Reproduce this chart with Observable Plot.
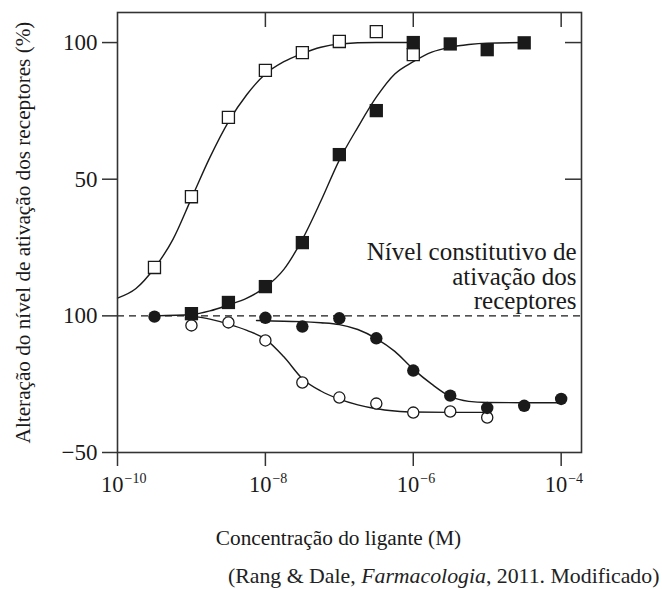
<!DOCTYPE html>
<html><head><meta charset="utf-8">
<script src="https://cdn.jsdelivr.net/npm/d3@7"></script>
<script src="https://cdn.jsdelivr.net/npm/@observablehq/plot@0.6"></script>
<style>
body{margin:0;background:#fff;}
#chart svg{display:block;}
#caption{font-family:"Liberation Serif",serif;font-size:21.8px;line-height:24px;padding-left:228px;color:#222;white-space:nowrap;}
</style></head><body>
<div id="chart"></div>
<div id="caption">(Rang &amp; Dale, <i>Farmacologia</i>, 2011. Modificado)</div>
<script>
// ---- data (x given as log10 of ligand concentration, M) ----
const openSquareLogX = [-9.5, -9, -8.5, -8, -7.5, -7, -6.5, -6];
const openSquareY    = [17.7, 43.6, 72.6, 89.8, 96.3, 100.4, 104, 95.6];
const filledSquareLogX = [-9, -8.5, -8, -7.5, -7, -6.5, -6, -5.5, -5, -4.5];
const filledSquareY    = [0.8, 4.9, 10.7, 26.8, 59, 75.1, 100, 99.5, 97.4, 99.9];
const filledCircleLogX = [-9.5, -8, -7.5, -7, -6.5, -6, -5.5, -5, -4.5, -4];
const filledCircleY    = [-0.3, -0.7, -3.9, -0.9, -8.2, -20, -29.2, -33.7, -32.9, -30.4];
const openCircleLogX = [-9, -8.5, -8, -7.5, -7, -6.5, -6, -5.5, -5];
const openCircleY    = [-3.5, -2.4, -9, -24.4, -29.9, -32.1, -35.4, -35, -37.2];

// fitted curves
const fitOpenSquareLogX = [-10, -9.75, -9.5, -9.25, -9, -8.75, -8.5, -8.25, -8, -7.75, -7.5, -7.25, -7, -6.5, -6];
const fitOpenSquareY    = [6.5, 10, 17.5, 28, 43, 58, 71, 81, 88.5, 93, 96, 98.3, 99.5, 100, 100];
const fitFilledSquareLogX = [-9.5, -9, -8.75, -8.5, -8.25, -8, -7.75, -7.5, -7.25, -7, -6.75, -6.5, -6.25, -6, -5.75, -5.5, -5.25, -5, -4.5];
const fitFilledSquareY    = [0, 0.5, 1.8, 4, 6.5, 10.5, 17, 28, 42, 57, 69, 80, 88.5, 93, 96.5, 98.3, 99.3, 99.8, 100];
const fitOpenCircleLogX = [-9, -8.75, -8.5, -8.25, -8, -7.75, -7.5, -7.25, -7, -6.75, -6.5, -6.25, -6, -5.5, -5];
const fitOpenCircleY    = [0, -1.2, -3, -5.3, -8.5, -15, -23, -27.5, -30.5, -32.6, -34, -34.8, -35.2, -35.3, -35.3];
const fitFilledCircleLogX = [-8.12, -8, -7.75, -7.5, -7.25, -7, -6.75, -6.5, -6.25, -6, -5.75, -5.5, -5.25, -5, -4.5, -4];
const fitFilledCircleY    = [-1.7, -1.8, -2, -2.1, -2.5, -3.2, -5, -8.3, -13, -19.5, -25, -29.5, -31.3, -31.7, -31.8, -31.8];

const constitutiveLevel = 0;
const xTicks = [1e-10, 1e-8, 1e-6, 1e-4];
const topTicks = [1e-8, 1e-6, 1e-4];
const yTicks = [-50, 0, 50, 100];
const rightTicks = [50, 100];
const yTickLabels = {"-50": "\u221250", "0": "100", "50": "50", "100": "100"};

const yTitle = "Alteração do nível de ativação dos receptores (%)";
const xTitle = "Concentração do ligante (M)";
const note = "Nível constitutivo de\nativação dos\nreceptores";

const pts = (lx, ys) => lx.map((v, i) => ({x: 10 ** v, y: ys[i]}));
const FF = "Liberation Serif";
const INK = "#1a1a1a";

const W = 662, H = 564;
const chart = Plot.plot({
  width: W, height: H,
  marginLeft: 117, marginRight: 81, marginTop: 12, marginBottom: H - 452,
  style: {fontFamily: FF, fontSize: "21px", color: INK, background: "white", overflow: "visible"},
  x: {type: "log", domain: [1e-10, 10 ** -3.725]},
  y: {domain: [-50, 111]},
  marks: [
    Plot.ruleY([constitutiveLevel], {stroke: INK, strokeWidth: 1.4, strokeDasharray: "7,5"}),
    Plot.line(pts(fitOpenSquareLogX, fitOpenSquareY), {x: "x", y: "y", curve: "monotone-x", stroke: INK, strokeWidth: 1.4}),
    Plot.line(pts(fitFilledSquareLogX, fitFilledSquareY), {x: "x", y: "y", curve: "monotone-x", stroke: INK, strokeWidth: 1.4}),
    Plot.line(pts(fitOpenCircleLogX, fitOpenCircleY), {x: "x", y: "y", curve: "monotone-x", stroke: INK, strokeWidth: 1.4}),
    Plot.line(pts(fitFilledCircleLogX, fitFilledCircleY), {x: "x", y: "y", curve: "monotone-x", stroke: INK, strokeWidth: 1.4}),
    Plot.dot(pts(openCircleLogX, openCircleY), {x: "x", y: "y", r: 5.6, fill: "white", stroke: INK, strokeWidth: 1.3}),
    Plot.dot(pts(filledCircleLogX, filledCircleY), {x: "x", y: "y", r: 6.2, fill: INK}),
    Plot.dot(pts(openSquareLogX, openSquareY), {x: "x", y: "y", symbol: "square", r: 6.8, fill: "white", stroke: INK, strokeWidth: 1.3}),
    Plot.dot(pts(filledSquareLogX, filledSquareY), {x: "x", y: "y", symbol: "square", r: 7.5, fill: INK}),
    Plot.frame({stroke: "#333", strokeWidth: 1.6}),
    Plot.ruleX(topTicks, {insetBottom: 425, stroke: "#333", strokeWidth: 1.5}),
    Plot.ruleY(rightTicks, {insetLeft: 448, stroke: "#333", strokeWidth: 1.5}),
    Plot.axisY({ticks: yTicks, tickSize: 15, tickPadding: 5, tickFormat: d => yTickLabels[d], fontSize: 23, fontFamily: FF, label: null, stroke: "#333", strokeWidth: 1.5}),
    Plot.axisX({ticks: xTicks, tickSize: 14, tickFormat: () => "", label: null, stroke: "#333", strokeWidth: 1.5}),
    Plot.text(xTicks, {x: d => d, text: () => "10", frameAnchor: "bottom", dy: 39, dx: 6, textAnchor: "end", fontSize: 22.5, fontFamily: FF, fill: INK}),
    Plot.text(xTicks, {x: d => d, text: d => "\u2212" + Math.round(-Math.log10(d)), frameAnchor: "bottom", dy: 30, dx: 7, textAnchor: "start", fontSize: 14, fontFamily: FF, fill: INK}),
    Plot.text([note], {y: constitutiveLevel, text: d => d, frameAnchor: "right", dx: -5, dy: -6.5, textAnchor: "end", lineAnchor: "bottom", lineHeight: 0.98, fontSize: 25, fontFamily: FF, fill: INK}),
    Plot.text([yTitle], {text: d => d, frameAnchor: "left", dx: -94, rotate: -90, textAnchor: "middle", lineAnchor: "middle", fontSize: 21.2, fontFamily: FF, fill: INK}),
    Plot.text([xTitle], {text: d => d, frameAnchor: "bottom", dx: -11, dy: 86, textAnchor: "middle", lineAnchor: "middle", fontSize: 21.3, fontFamily: FF, fill: INK})
  ]
});
document.getElementById("chart").appendChild(chart);
</script>
</body></html>
